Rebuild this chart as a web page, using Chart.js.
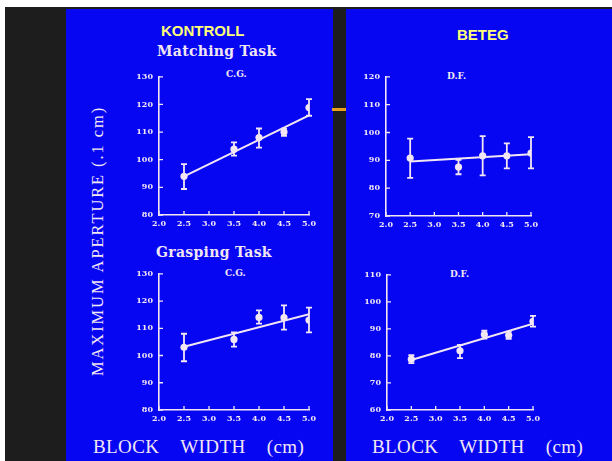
<!DOCTYPE html>
<html><head><meta charset="utf-8">
<script src="https://cdn.jsdelivr.net/npm/chart.js@4/dist/chart.umd.min.js"></script>
<style>
html,body{margin:0;padding:0;}
body{width:612px;height:461px;position:relative;overflow:hidden;background:#fff;}
#film{position:absolute;left:5px;top:7px;width:607px;height:454px;background:#1d1d1d;}
.panel{position:absolute;top:9px;height:452px;background:#0606f2;}
#pL{left:66px;width:267px;}
#pR{left:346px;width:266px;}
#mark{position:absolute;left:332px;top:108px;width:14px;height:3px;background:#e8a020;}
.t{position:absolute;white-space:pre;color:#f2e6f2;line-height:1;}
.head{font-family:"Liberation Sans",Arial,sans-serif;font-weight:bold;font-size:15px;color:#ffff78;}
.task{font-family:"DejaVu Serif",serif;font-weight:bold;font-size:14px;letter-spacing:0.3px;}
.sub{font-family:"DejaVu Serif",serif;font-weight:bold;font-size:9px;}
.xl{font-family:"Liberation Serif",serif;font-size:19px;letter-spacing:0.4px;word-spacing:16px;}
canvas{position:absolute;}
</style>
</head><body>
<div id="film"></div>
<div class="panel" id="pL"></div>
<div class="panel" id="pR"></div>
<div id="mark"></div>

<div class="t head" style="left:161px;top:23px;">KONTROLL</div>
<div class="t head" style="left:457px;top:27px;">BETEG</div>
<div class="t task" style="left:157px;top:44px;">Matching Task</div>
<div class="t task" style="left:156px;top:245px;">Grasping Task</div>
<div class="t sub" style="left:226px;top:70px;">C.G.</div>
<div class="t sub" style="left:447px;top:72px;">D.F.</div>
<div class="t sub" style="left:225px;top:269px;">C.G.</div>
<div class="t sub" style="left:450px;top:270px;">D.F.</div>
<div class="t xl" style="left:93px;top:437px;">BLOCK WIDTH (cm)</div>
<div class="t xl" style="left:372px;top:437px;">BLOCK WIDTH (cm)</div>
<div class="t" style="left:98px;top:241px;transform:translate(-50%,-50%) rotate(-90deg);font-family:'Liberation Serif',serif;font-size:16.5px;letter-spacing:1.9px;">MAXIMUM APERTURE (.1 cm)</div>

<canvas id="c1" width="202" height="169" style="left:119px;top:66px;"></canvas>
<canvas id="c2" width="197" height="170" style="left:346px;top:66px;"></canvas>
<canvas id="c3" width="202" height="167" style="left:119px;top:263px;"></canvas>
<canvas id="c4" width="198" height="166" style="left:347px;top:264px;"></canvas>

<script>
// ---- data ----
const blockWidth = [2.5, 3.5, 4.0, 4.5, 5.0];
const fitX = [2.5, 5.0];
const xTickLabels = ['2.0','2.5','3.0','3.5','4.0','4.5','5.0'];

const cgMatchMean = [94.0, 103.8, 108.0, 110.0, 118.9];
const cgMatchLow  = [89.4, 101.5, 104.4, 108.6, 115.9];
const cgMatchHigh = [98.4, 106.3, 111.3, 111.2, 121.9];
const cgMatchFit  = [94.0, 116.0];

const dfMatchMean = [90.8, 87.6, 91.6, 91.6, 92.6];
const dfMatchLow  = [83.7, 85.0, 84.6, 87.1, 87.1];
const dfMatchHigh = [97.8, 90.2, 98.7, 96.1, 98.3];
const dfMatchFit  = [89.6, 92.2];

const cgGraspMean = [103.0, 105.9, 114.0, 113.9, 113.0];
const cgGraspLow  = [97.9, 103.3, 111.7, 109.5, 108.5];
const cgGraspHigh = [108.0, 108.5, 116.6, 118.4, 117.6];
const cgGraspFit  = [103.2, 115.2];

const dfGraspMean = [78.8, 81.9, 87.9, 87.6, 92.8];
const dfGraspLow  = [77.3, 79.2, 86.4, 86.3, 90.8];
const dfGraspHigh = [80.3, 84.1, 89.3, 89.0, 94.8];
const dfGraspFit  = [78.5, 91.9];

const INK = '#f2e6f2';

const decor = {
  id: 'decor',
  beforeDatasetsDraw(chart, args, o) {
    const ctx = chart.ctx, x = chart.scales.x, y = chart.scales.y;
    ctx.save();
    ctx.strokeStyle = INK; ctx.lineWidth = 1.8;
    o.xs.forEach((xv, i) => {
      const px = x.getPixelForValue(xv);
      const pl = y.getPixelForValue(o.low[i]);
      const ph = y.getPixelForValue(o.high[i]);
      ctx.beginPath();
      ctx.moveTo(px, pl); ctx.lineTo(px, ph);
      ctx.moveTo(px - 3, pl); ctx.lineTo(px + 3, pl);
      ctx.moveTo(px - 3, ph); ctx.lineTo(px + 3, ph);
      ctx.stroke();
    });
    ctx.restore();
  },
  afterDraw(chart) {
    const ctx = chart.ctx, x = chart.scales.x, y = chart.scales.y;
    ctx.save();
    ctx.strokeStyle = INK; ctx.lineWidth = 1.3;
    ctx.beginPath();
    x.ticks.forEach(t => {
      const px = x.getPixelForValue(t.value);
      ctx.moveTo(px, y.bottom); ctx.lineTo(px, y.bottom - 4);
    });
    y.ticks.forEach(t => {
      const py = y.getPixelForValue(t.value);
      ctx.moveTo(x.left, py); ctx.lineTo(x.left + 4, py);
    });
    ctx.stroke();
    ctx.restore();
  }
};

function makeChart(id, mean, low, high, fit, yMin, yMax) {
  const tickFont = {family: 'DejaVu Serif', weight: 'bold', size: 8};
  new Chart(document.getElementById(id), {
    type: 'scatter',
    data: {
      datasets: [
        {
          data: fitX.map((xv, i) => ({x: xv, y: fit[i]})),
          showLine: true, borderColor: INK, borderWidth: 2,
          pointRadius: 0, order: 2
        },
        {
          data: blockWidth.map((xv, i) => ({x: xv, y: mean[i]})),
          showLine: false, pointRadius: 3.6, pointBackgroundColor: INK,
          pointBorderWidth: 0, order: 1
        }
      ]
    },
    options: {
      responsive: false, animation: false, devicePixelRatio: 1,
      layout: {padding: {top: 10, right: 12, left: 0, bottom: 0}},
      plugins: {legend: {display: false}, tooltip: {enabled: false},
        decor: {xs: blockWidth, low: low, high: high}},
      scales: {
        x: {
          type: 'linear', min: 2, max: 5,
          grid: {display: false, drawTicks: false},
          border: {display: true, color: INK, width: 1.6},
          ticks: {stepSize: 0.5, color: INK, font: tickFont, padding: 4, maxRotation: 0,
            callback: (v) => xTickLabels[Math.round((v - 2) * 2)]},
          afterFit: (s) => { s.height = 20; }
        },
        y: {
          min: yMin, max: yMax,
          grid: {display: false, drawTicks: false},
          border: {display: true, color: INK, width: 1.6},
          ticks: {stepSize: 10, color: INK, font: tickFont, padding: 6},
          afterFit: (s) => { s.width = 40; }
        }
      }
    },
    plugins: [decor]
  });
}

makeChart('c1', cgMatchMean, cgMatchLow, cgMatchHigh, cgMatchFit, 80, 130);
makeChart('c2', dfMatchMean, dfMatchLow, dfMatchHigh, dfMatchFit, 70, 120);
makeChart('c3', cgGraspMean, cgGraspLow, cgGraspHigh, cgGraspFit, 80, 130);
makeChart('c4', dfGraspMean, dfGraspLow, dfGraspHigh, dfGraspFit, 60, 110);
</script>
</body></html>
